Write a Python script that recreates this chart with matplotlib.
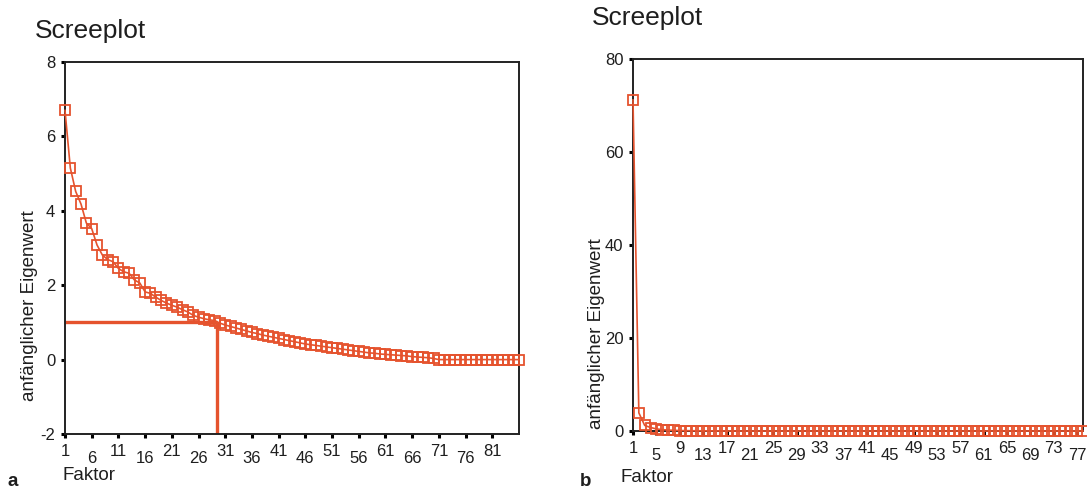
import matplotlib
matplotlib.use("Agg")
import matplotlib.pyplot as plt

plt.rcParams['font.family'] = ['Liberation Sans', 'DejaVu Sans']

# Eigenvalues, panel a (86 factors)
eigen_a = [
    6.70, 5.15, 4.52, 4.18, 3.67, 3.52, 3.08, 2.81, 2.69, 2.63,
    2.45, 2.36, 2.32, 2.14, 2.06, 1.82, 1.78, 1.68, 1.59, 1.52,
    1.46, 1.41, 1.34, 1.28, 1.19, 1.14, 1.10, 1.07, 1.05, 0.98,
    0.93, 0.89, 0.85, 0.81, 0.77, 0.73, 0.70, 0.66, 0.63, 0.60,
    0.57, 0.54, 0.51, 0.48, 0.45, 0.42, 0.40, 0.38, 0.36, 0.34,
    0.32, 0.30, 0.28, 0.26, 0.24, 0.22, 0.20, 0.18, 0.17, 0.15,
    0.14, 0.13, 0.12, 0.11, 0.10, 0.08, 0.07, 0.06, 0.05, 0.03,
    0.00, 0.00, 0.00, 0.00, 0.00, 0.00, 0.00, 0.00, 0.00, 0.00,
    0.00, 0.00, 0.00, 0.00, 0.00, 0.00,
]
factors_a = list(range(1, len(eigen_a) + 1))
kaiser_level = 1.0
kaiser_cut = 29.5
ticks_a = list(range(1, 86, 5))
yticks_a = [-2, 0, 2, 4, 6, 8]

# Eigenvalues, panel b (78 factors)
eigen_b = [
    71.2, 3.9, 1.2, 0.75, 0.45, 0.30, 0.20, 0.15, 0.10, 0.08,
    0.06, 0.05, 0.04, 0.03, 0.02, 0.02, 0.01, 0.01,
] + [0.0] * 60
factors_b = list(range(1, len(eigen_b) + 1))
ticks_b = list(range(1, 78, 4))
yticks_b = [0, 20, 40, 60, 80]

RED = '#E5532E'
INK = '#1e1e1e'
W, H = 1087, 488
fig = plt.figure(figsize=(W / 100, H / 100), dpi=100)


def box(x0, y0, x1, y1):
    """Axes rectangle from pixel coordinates (top-left origin)."""
    return [x0 / W, 1 - y1 / H, (x1 - x0) / W, (y1 - y0) / H]


def style(ax, xs, ys, ticks, yticks, xlim, ylim):
    ax.plot(xs, ys, color=RED, lw=1.2, marker='s', ms=6.8,
            mfc='none', mec=RED, mew=1.3, zorder=3, clip_on=False)
    ax.set_xlim(*xlim)
    ax.set_ylim(*ylim)
    upper = ticks[0::2]
    lower = ticks[1::2]
    ax.set_xticks(upper, [str(t) for t in upper])
    ax.set_xticks(lower, [str(t) for t in lower], minor=True)
    ax.set_yticks(yticks, [str(t) for t in yticks])
    ax.tick_params(which='both', direction='out', length=3, width=2.2,
                   color='black', labelsize=12, labelcolor=INK)
    ax.tick_params(axis='x', which='major', pad=4)
    ax.tick_params(axis='x', which='minor', pad=9)
    ax.tick_params(axis='y', pad=4)
    for s in ax.spines.values():
        s.set_linewidth(1.4)
        s.set_color('#222222')


ax_a = fig.add_axes(box(65, 62, 519, 434))
style(ax_a, factors_a, eigen_a, ticks_a, yticks_a, (1, 86), (-2, 8))
ax_a.plot([1, kaiser_cut], [kaiser_level, kaiser_level], color=RED, lw=2.4,
          zorder=2, solid_capstyle='butt')
ax_a.plot([kaiser_cut, kaiser_cut], [-2, kaiser_level], color=RED, lw=2.4,
          zorder=2, solid_capstyle='butt')

ax_b = fig.add_axes(box(633, 59, 1083, 431))
style(ax_b, factors_b, eigen_b, ticks_b, yticks_b, (1, 78), (0, 80))

# Titles, axis labels and panel letters
fig.text(35 / W, 1 - 31 / H, 'Screeplot', fontsize=19, ha='left', va='center',
         color=INK)
fig.text(592 / W, 1 - 18 / H, 'Screeplot', fontsize=19, ha='left', va='center',
         color=INK)
fig.text(30 / W, 1 - 306 / H, 'anfänglicher Eigenwert', fontsize=13.5,
         rotation=90, ha='center', va='center', color=INK)
fig.text(597 / W, 1 - 334 / H, 'anfänglicher Eigenwert', fontsize=13.5,
         rotation=90, ha='center', va='center', color=INK)
fig.text(63 / W, 1 - 476 / H, 'Faktor', fontsize=13.5, ha='left', va='center',
         color=INK)
fig.text(620 / W, 1 - 477 / H, 'Faktor', fontsize=13.5, ha='left', va='center',
         color=INK)
fig.text(8 / W, 1 - 481 / H, 'a', fontsize=13.5, fontweight='bold',
         ha='left', va='center', color=INK)
fig.text(580 / W, 1 - 481 / H, 'b', fontsize=13.5, fontweight='bold',
         ha='left', va='center', color=INK)

fig.savefig('out.png', dpi=100)
